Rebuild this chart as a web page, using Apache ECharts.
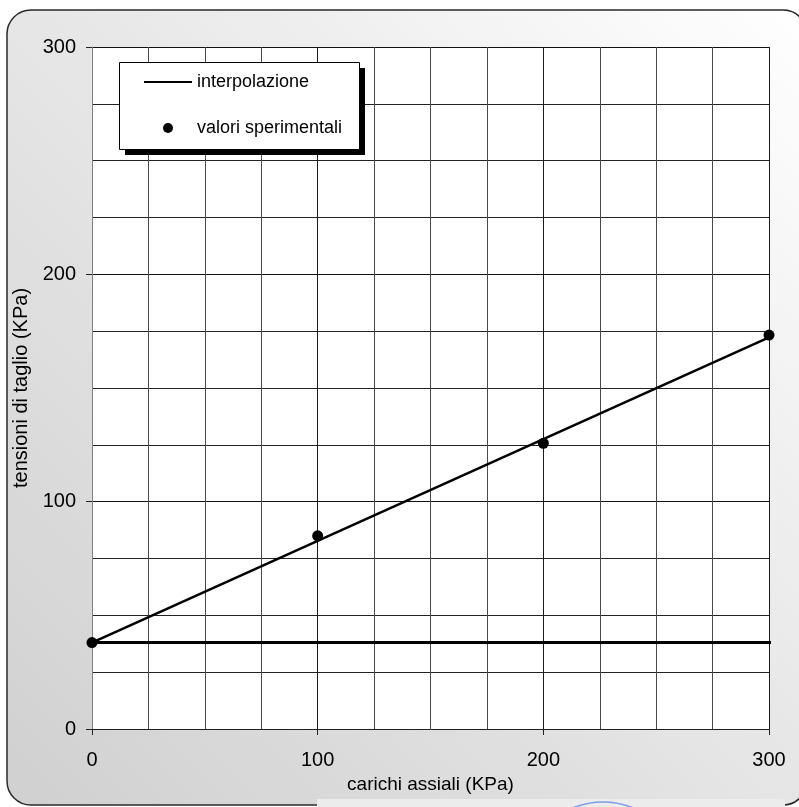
<!DOCTYPE html>
<html>
<head>
<meta charset="utf-8">
<style>
  html, body { margin: 0; padding: 0; background: #ffffff; }
  #chart { width: 799px; height: 807px; }
</style>
<script src="https://cdn.jsdelivr.net/npm/echarts@6/dist/echarts.min.js"></script>
</head>
<body>
<div id="chart"></div>
<script>
// Prove di taglio: carichi assiali vs tensioni di taglio
const carichi = [0, 100, 200, 300];            // carichi assiali (KPa)
const tensioni = [38, 85, 125.7, 173.3];       // valori sperimentali (KPa)
const interpX = [0, 300];                      // retta di interpolazione
const interpY = [38, 172.3];
const coesioneX = [0, 302];                    // linea orizzontale a tau = c
const coesioneY = [38, 38];
const xTicks = [0, 100, 200, 300];
const yTicks = [0, 100, 200, 300];

const FONT = '"Liberation Sans", Arial, sans-serif';
const zip = (a, b) => a.map((v, i) => [v, b[i]]);

const chart = echarts.init(document.getElementById('chart'), null, { renderer: 'canvas' });

// riquadro della legenda con ombra netta
const LEG = { x: 119, y: 62, w: 240, h: 87, off: 6 };

chart.setOption({
  animation: false,
  backgroundColor: '#ffffff',
  textStyle: { fontFamily: FONT },
  graphic: [
    {
      type: 'rect', z: -10, silent: true,
      shape: { x: 7, y: 10, width: 800, height: 795, r: 24 },
      style: {
        fill: {
          type: 'linear', x: 0, y: 1, x2: 1, y2: 0,
          colorStops: [
            { offset: 0, color: '#d0d0d0' },
            { offset: 0.55, color: '#e8e8e8' },
            { offset: 1, color: '#ffffff' }
          ]
        },
        stroke: '#2a2a2a', lineWidth: 1.5
      }
    },
    {
      type: 'rect', z: -9, silent: true,
      shape: { x: 317, y: 799, width: 468, height: 10 },
      style: { fill: '#ececec' }
    },
    {
      type: 'circle', z: -8, silent: true,
      shape: { cx: 603, cy: 883, r: 81 },
      style: { fill: 'none', stroke: '#7f9fe6', lineWidth: 1.5 }
    },
    {
      type: 'rect', z: 6, silent: true,
      shape: { x: LEG.x + LEG.off, y: LEG.y + LEG.off, width: LEG.w, height: LEG.h },
      style: { fill: '#000000' }
    },
    {
      type: 'rect', z: 7, silent: true,
      shape: { x: LEG.x + 0.5, y: LEG.y + 0.5, width: LEG.w, height: LEG.h },
      style: { fill: '#ffffff', stroke: '#000000', lineWidth: 1 }
    }
  ],
  grid: {
    left: 92, right: 30, top: 47, bottom: 78,
    show: true, backgroundColor: '#ffffff', borderWidth: 0
  },
  legend: {
    z: 20,
    data: [
      { name: 'interpolazione', itemStyle: { opacity: 0 } },
      { name: 'valori sperimentali' }
    ],
    orient: 'vertical',
    left: LEG.x, top: LEG.y,
    padding: [11, 22, 11, 24],
    itemGap: 28,
    itemWidth: 48, itemHeight: 10,
    textStyle: { fontFamily: FONT, fontSize: 18, color: '#000000' }
  },
  xAxis: {
    type: 'value', min: 0, max: 300, interval: 100,
    name: 'carichi assiali (KPa)', nameLocation: 'middle', nameGap: 42,
    nameTextStyle: { fontFamily: FONT, fontSize: 19, color: '#000000' },
    axisLine: { show: true, onZero: false, lineStyle: { color: '#222222', width: 1 } },
    axisTick: { show: true, length: 6, lineStyle: { color: '#222222', width: 1 } },
    axisLabel: {
      fontFamily: FONT, fontSize: 20, color: '#000000', margin: 21,
      formatter: v => xTicks.includes(v) ? String(v) : ''
    },
    splitLine: { show: true, showMinLine: false, lineStyle: { color: '#1a1a1a', width: 1 } },
    minorTick: { show: false, splitNumber: 4 },
    minorSplitLine: { show: true, lineStyle: { color: '#4a4a4a', width: 1 } }
  },
  yAxis: {
    type: 'value', min: 0, max: 300, interval: 100,
    name: 'tensioni di taglio (KPa)', nameLocation: 'middle', nameGap: 43,
    nameTextStyle: { fontFamily: FONT, fontSize: 20, color: '#000000' },
    axisLine: { show: true, onZero: false, lineStyle: { color: '#808080', width: 1 } },
    axisTick: { show: true, length: 6, lineStyle: { color: '#222222', width: 1 } },
    axisLabel: {
      fontFamily: FONT, fontSize: 20, color: '#000000', margin: 16,
      formatter: v => yTicks.includes(v) ? String(v) : ''
    },
    splitLine: { show: true, showMinLine: false, lineStyle: { color: '#111111', width: 1 } },
    minorTick: { show: false, splitNumber: 4 },
    minorSplitLine: { show: true, lineStyle: { color: '#222222', width: 1 } }
  },
  series: [
    {
      name: 'coesione', type: 'line', clip: false,
      data: zip(coesioneX, coesioneY),
      symbol: 'none', z: 3,
      lineStyle: { color: '#000000', width: 3 }
    },
    {
      name: 'interpolazione', type: 'line',
      data: zip(interpX, interpY),
      symbol: 'none', z: 4,
      itemStyle: { color: '#000000' },
      lineStyle: { color: '#000000', width: 2.5 }
    },
    {
      name: 'valori sperimentali', type: 'scatter',
      data: zip(carichi, tensioni),
      symbol: 'circle', symbolSize: 11, z: 5,
      itemStyle: { color: '#000000', opacity: 1 }
    }
  ]
});
</script>
</body>
</html>
